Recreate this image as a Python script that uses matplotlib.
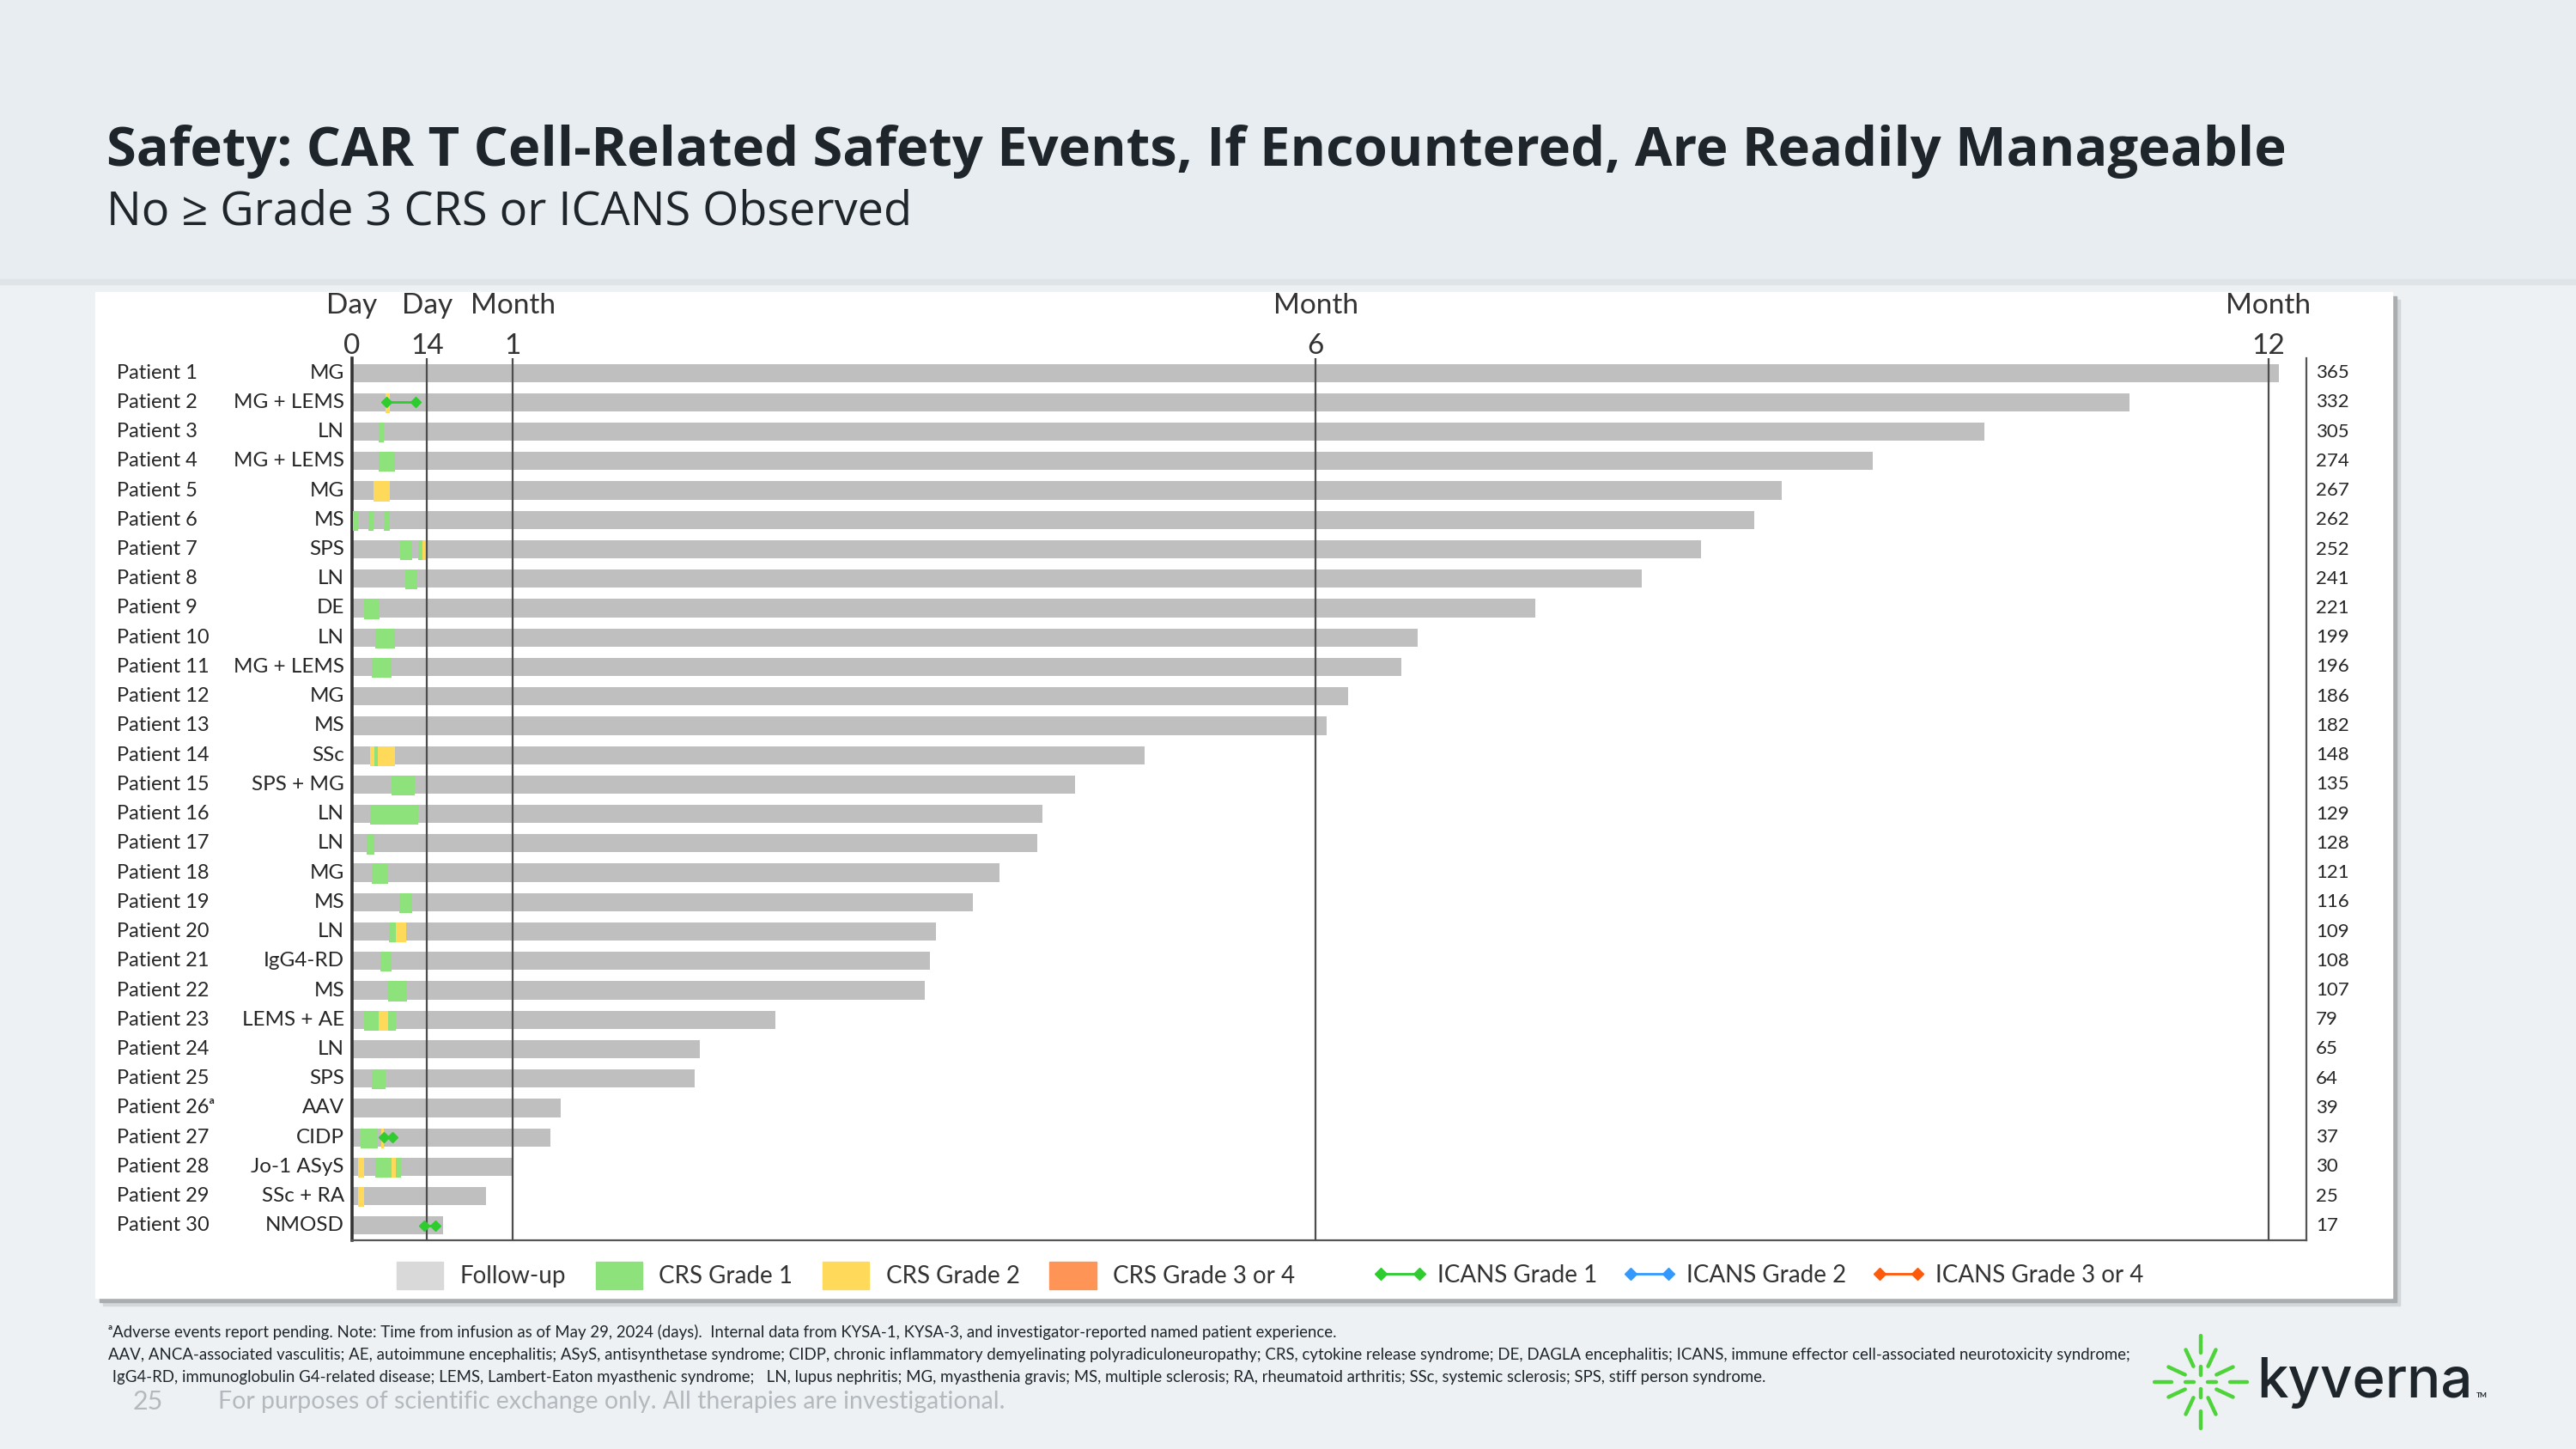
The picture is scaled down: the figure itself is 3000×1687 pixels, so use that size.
import matplotlib
matplotlib.use("Agg")
import numpy as np
import matplotlib.pyplot as plt
from matplotlib.patches import Rectangle, Patch
from matplotlib.lines import Line2D
from matplotlib.transforms import blended_transform_factory

W, H = 3000, 1687

# ── data ──────────────────────────────────────────────────────────────────────
patients = ["Patient 1", "Patient 2", "Patient 3", "Patient 4", "Patient 5",
            "Patient 6", "Patient 7", "Patient 8", "Patient 9", "Patient 10",
            "Patient 11", "Patient 12", "Patient 13", "Patient 14", "Patient 15",
            "Patient 16", "Patient 17", "Patient 18", "Patient 19", "Patient 20",
            "Patient 21", "Patient 22", "Patient 23", "Patient 24", "Patient 25",
            "Patient 26ᵃ", "Patient 27", "Patient 28", "Patient 29", "Patient 30"]
diseases = ["MG", "MG + LEMS", "LN", "MG + LEMS", "MG", "MS", "SPS", "LN", "DE", "LN",
            "MG + LEMS", "MG", "MS", "SSc", "SPS + MG", "LN", "LN", "MG", "MS", "LN",
            "IgG4-RD", "MS", "LEMS + AE", "LN", "SPS", "AAV", "CIDP", "Jo-1 ASyS",
            "SSc + RA", "NMOSD"]
# days shown in the right-hand column
followup_days = [365, 332, 305, 274, 267, 262, 252, 241, 221, 199, 196, 186, 182, 148,
                 135, 129, 128, 121, 116, 109, 108, 107, 79, 65, 64, 39, 37, 30, 25, 17]
# bar lengths as drawn in the picture (patient 1 and 4 differ from the column)
bar_days = [360, 332, 305, 284, 267, 262, 252, 241, 221, 199, 196, 186, 182, 148,
            135, 129, 128, 121, 116, 109, 108, 107, 79, 65, 64, 39, 37, 30, 25, 17]

# CRS episodes (patient number, start day, end day, grade)
crs_patient = [2, 3, 4, 5, 6, 6, 6, 7, 7, 7, 8, 9, 10, 11, 14, 14, 14, 15, 16, 17, 18,
               19, 20, 20, 21, 22, 23, 23, 23, 25, 27, 27, 28, 28, 28, 28, 29]
crs_start = [6.2, 5, 5, 4, 0.2, 3, 6, 9, 12.4, 13.2, 10, 2.3, 4.3, 3.7, 3.3, 4.2, 4.8,
             7.3, 3.3, 2.8, 3.7, 8.8, 6.9, 8.2, 5.3, 6.7, 2.3, 5, 6.8, 3.7, 1.6, 5.4,
             1.2, 4.3, 7.3, 8.2, 1.2]
crs_end = [7, 6, 8, 7, 1.2, 4, 7, 11.2, 13.2, 14, 12.2, 5.1, 8.1, 7.3, 4.2, 4.8, 8.1,
           11.7, 12.3, 4.2, 6.7, 11.2, 8.2, 10.1, 7.3, 10.3, 5, 6.8, 8.2, 6.2, 4.8, 6,
           2.2, 7.3, 8.2, 9.2, 2.2]
crs_grade = [2, 1, 1, 2, 1, 1, 1, 1, 1, 2, 1, 1, 1, 1, 2, 1, 2, 1, 1, 1, 1, 1, 1, 2, 1,
             1, 1, 2, 1, 1, 1, 2, 2, 1, 2, 1, 2]

# ICANS episodes
icans_patient = [2, 27, 30]
icans_start = [6.4, 6.0, 13.5]
icans_end = [11.8, 7.5, 15.5]
icans_grade = [1, 1, 1]

ref_days = [0, 14, 30, 180, 358]
ref_unit = ["Day", "Day", "Month", "Month", "Month"]
ref_value = ["0", "14", "1", "6", "12"]

FOLLOW_BAR = "#bfbfbf"
FOLLOW_LEG = "#d9d9d9"
CRS_COL = {1: "#8de27b", 2: "#ffd95a", 3: "#ff9457"}
ICANS_COL = {1: "#2fcc2f", 2: "#3399ff", 3: "#ff5a0a"}

CHART_FONT = ["Lato", "DejaVu Sans"]
TITLE_FONT = ["Open Sans", "DejaVu Sans"]
TXT = "#262626"

# ── figure / page ─────────────────────────────────────────────────────────────
fig = plt.figure(figsize=(W / 100, H / 100), dpi=100)
fig.patch.set_facecolor("#edf1f4")

def fx(px):
    return px / W

def fy(py):
    return 1 - py / H

fig.patches.append(Rectangle((0, fy(325)), 1, 1 - fy(325), transform=fig.transFigure,
                             color="#e8edf1", zorder=-10))
fig.patches.append(Rectangle((0, fy(331)), 1, fy(325) - fy(331), transform=fig.transFigure,
                             color="#dfe4e8", zorder=-10))

# chart card with soft shadow
for off, col in [(9, "#d3d7da"), (5, "#a9adb0")]:
    fig.patches.append(Rectangle((fx(111 + off), fy(1511 + off)), fx(2786 - 111), fy(340) - fy(1511),
                                 transform=fig.transFigure, color=col, zorder=-9))
fig.patches.append(Rectangle((fx(111), fy(1511)), fx(2786 - 111), fy(340) - fy(1511),
                             transform=fig.transFigure, color="white", zorder=-8))

# titles
fig.text(fx(124), fy(193), "Safety: CAR T Cell-Related Safety Events, If Encountered, Are Readily Manageable",
         fontsize=45.5, fontweight="bold", family=TITLE_FONT, color="#1f262b", va="baseline")
fig.text(fx(124), fy(262), "No ≥ Grade 3 CRS or ICANS Observed",
         fontsize=39, family=TITLE_FONT, color="#1f262b", va="baseline")

# ── main axes ────────────────────────────────────────────────────────────────
ax = fig.add_axes([fx(410), fy(1444), fx(2685.5 - 410), fy(417) - fy(1444)])
ax.set_facecolor("none")
n = len(patients)
rows = list(range(n))

ax.barh(rows, bar_days, left=0, height=0.62, color=FOLLOW_BAR, zorder=2)

for p, s, e, g in zip(crs_patient, crs_start, crs_end, crs_grade):
    ax.barh(p - 1 + 0.03, e - s, left=s, height=0.68, color=CRS_COL[g], zorder=3)

for d in ref_days[1:]:
    ax.axvline(d, color="#4d4d4d", lw=1.6, zorder=4)

for p, s, e, g in zip(icans_patient, icans_start, icans_end, icans_grade):
    ax.plot([s, e], [p - 1, p - 1], color=ICANS_COL[g], lw=2, marker="D", ms=6, zorder=5)

ax.set_xlim(0, 365)
ax.set_ylim(n - 0.5, -0.5)
ax.set_xticks([])
ax.set_yticks([])
ax.spines["top"].set_visible(False)
ax.spines["left"].set_color("#333333")
ax.spines["left"].set_linewidth(2.6)
for side in ["right", "bottom"]:
    ax.spines[side].set_color("#555555")
    ax.spines[side].set_linewidth(1.6)

# row labels
lab_tr = blended_transform_factory(fig.transFigure, ax.transData)
for i, (pt, dz) in enumerate(zip(patients, diseases)):
    ax.text(fx(136), i, pt, transform=lab_tr, ha="left", va="center",
            fontsize=17, family=CHART_FONT, color=TXT)
    ax.text(fx(401), i, dz, transform=lab_tr, ha="right", va="center",
            fontsize=17.5, family=CHART_FONT, color=TXT)

# follow-up totals on the right
num_tr = blended_transform_factory(ax.transAxes, ax.transData)
for i, v in enumerate(followup_days):
    ax.text(1.005, i, str(v), transform=num_tr, ha="left", va="center",
            fontsize=16, family=CHART_FONT, color=TXT)

# reference labels above
top_tr = blended_transform_factory(ax.transData, fig.transFigure)
for d, u, v in zip(ref_days, ref_unit, ref_value):
    ax.text(d, fy(356), u, transform=top_tr, ha="center", va="center",
            fontsize=24, family=CHART_FONT, color="#333333")
    ax.text(d, fy(403), v, transform=top_tr, ha="center", va="center",
            fontsize=24, family=CHART_FONT, color="#333333")

# ── legends ──────────────────────────────────────────────────────────────────
h1 = [Patch(color=FOLLOW_LEG, label="Follow-up"),
      Patch(color=CRS_COL[1], label="CRS Grade 1"),
      Patch(color=CRS_COL[2], label="CRS Grade 2"),
      Patch(color=CRS_COL[3], label="CRS Grade 3 or 4")]
leg1 = fig.legend(handles=h1, loc="center left", bbox_to_anchor=(fx(462), fy(1485)),
                  ncol=4, frameon=False, borderpad=0, borderaxespad=0,
                  handlelength=1.95, handleheight=1.37, handletextpad=0.7,
                  columnspacing=1.25, prop={"family": CHART_FONT, "size": 20})
for t in leg1.get_texts():
    t.set_color("#333333")

h2 = [Line2D([], [], color=ICANS_COL[1], lw=2, marker="D", ms=7, label="ICANS Grade 1"),
      Line2D([], [], color=ICANS_COL[2], lw=2, marker="D", ms=7, label="ICANS Grade 2"),
      Line2D([], [], color=ICANS_COL[3], lw=2, marker="D", ms=7, label="ICANS Grade 3 or 4")]
leg2 = fig.legend(handles=h2, loc="center left", bbox_to_anchor=(fx(1600), fy(1485)),
                  ncol=3, frameon=False, borderpad=0, borderaxespad=0, numpoints=2,
                  handlelength=2.2, handletextpad=0.45, columnspacing=1.1,
                  prop={"family": CHART_FONT, "size": 20})
for t in leg2.get_texts():
    t.set_color("#333333")

# ── footnotes ────────────────────────────────────────────────────────────────
notes = [
    "ᵃAdverse events report pending. Note: Time from infusion as of May 29, 2024 (days).  "
    "Internal data from KYSA-1, KYSA-3, and investigator-reported named patient experience.",
    "AAV, ANCA-associated vasculitis; AE, autoimmune encephalitis; ASyS, antisynthetase syndrome; "
    "CIDP, chronic inflammatory demyelinating polyradiculoneuropathy; CRS, cytokine release syndrome; "
    "DE, DAGLA encephalitis; ICANS, immune effector cell-associated neurotoxicity syndrome;",
    " IgG4-RD, immunoglobulin G4-related disease; LEMS, Lambert-Eaton myasthenic syndrome;   "
    "LN, lupus nephritis; MG, myasthenia gravis; MS, multiple sclerosis; RA, rheumatoid arthritis; "
    "SSc, systemic sclerosis; SPS, stiff person syndrome.",
]
for k, line in enumerate(notes):
    fig.text(fx(126), fy(1551 + 26.5 * k), line, fontsize=13.4, family=CHART_FONT,
             color="#1f262b", va="center")

fig.text(fx(172), fy(1632), "25", fontsize=22, family=CHART_FONT, color="#b4b9bd",
         ha="center", va="center")
fig.text(fx(254), fy(1632), "For purposes of scientific exchange only. All therapies are investigational.",
         fontsize=20.5, family=CHART_FONT, color="#b4b9bd", va="center")

# ── logo ─────────────────────────────────────────────────────────────────────
lax = fig.add_axes([fx(2563 - 56), fy(1609 + 56), fx(112), fy(0) - fy(112)])
lax.set_xlim(-1, 1)
lax.set_ylim(-1, 1)
lax.axis("off")
for ang in [0, 90, 180, 270]:
    c, s = np.cos(np.radians(ang)), np.sin(np.radians(ang))
    lax.plot([0.60 * c, 0.97 * c], [0.60 * s, 0.97 * s], color="#4fd33a", lw=3.2,
             solid_capstyle="round")
    lax.plot([0.14 * c, 0.33 * c], [0.14 * s, 0.33 * s], color="#4fd33a", lw=3.2,
             solid_capstyle="round")
for ang in [25, 65, 115, 155, 205, 245, 295, 335]:
    c, s = np.cos(np.radians(ang)), np.sin(np.radians(ang))
    lax.plot([0.36 * c, 0.74 * c], [0.36 * s, 0.74 * s], color="#4fd33a", lw=3.2,
             solid_capstyle="round")

fig.text(fx(2628), fy(1627), "kyverna", fontsize=47, family=["Inter", "Lato", "DejaVu Sans"],
         fontweight="medium", color="#1e262b", va="baseline")
fig.text(fx(2884), fy(1627), "TM", fontsize=6, fontweight="bold", family=CHART_FONT,
         color="#1e262b", va="baseline")

fig.savefig("out.png", dpi=100, facecolor=fig.get_facecolor())
